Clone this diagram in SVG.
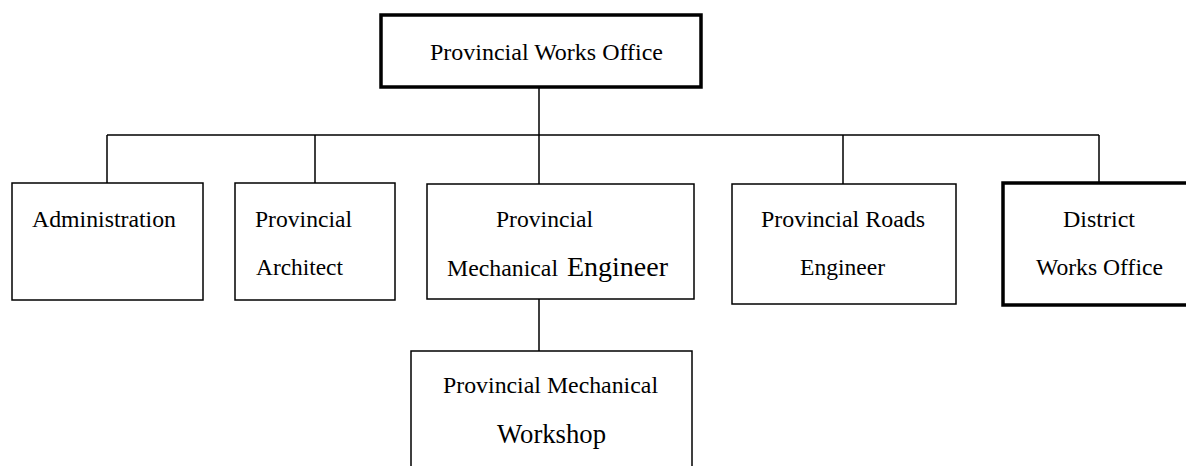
<svg xmlns="http://www.w3.org/2000/svg" width="1186" height="466" viewBox="0 0 1186 466">
<style>
.box{fill:#fff;stroke:#000;stroke-width:1.5}
.thick{fill:#fff;stroke:#000;stroke-width:3.5}
.conn{fill:none;stroke:#000;stroke-width:1.5}
text{font-family:"Liberation Serif","Times New Roman",serif;font-size:23.5px;fill:#000}
.big{font-size:27px}
</style>
<rect width="1186" height="466" fill="#fff"/>
<g id="connectors">
<path class="conn" d="M539,87 V135 M107,135 H1099 M107,135 V183 M315,135 V183 M539,135 V184 M843,135 V184 M1099,135 V183 M539,299 V351"/>
</g>
<g id="pwo">
<rect class="thick" x="381" y="15" width="320" height="72"/>
<text x="430" y="60" textLength="233" lengthAdjust="spacingAndGlyphs">Provincial Works Office</text>
</g>
<g id="admin">
<rect class="box" x="12" y="183" width="191" height="117"/>
<text x="32" y="227" textLength="144" lengthAdjust="spacingAndGlyphs">Administration</text>
</g>
<g id="architect">
<rect class="box" x="235" y="183" width="160" height="117"/>
<text x="255" y="227" textLength="97" lengthAdjust="spacingAndGlyphs">Provincial</text>
<text x="256" y="275" textLength="87" lengthAdjust="spacingAndGlyphs">Architect</text>
</g>
<g id="mecheng">
<rect class="box" x="427" y="184" width="267" height="115"/>
<text x="496" y="227" textLength="97" lengthAdjust="spacingAndGlyphs">Provincial</text>
<text x="447" y="276" textLength="111" lengthAdjust="spacingAndGlyphs">Mechanical</text>
<text class="big" x="567" y="276" textLength="101" lengthAdjust="spacingAndGlyphs">Engineer</text>
</g>
<g id="roads">
<rect class="box" x="732" y="184" width="224" height="120"/>
<text x="761" y="227" textLength="164" lengthAdjust="spacingAndGlyphs">Provincial Roads</text>
<text x="800" y="275" textLength="85" lengthAdjust="spacingAndGlyphs">Engineer</text>
</g>
<g id="district">
<rect class="thick" x="1003" y="183" width="190" height="122"/>
<text x="1063" y="227" textLength="72" lengthAdjust="spacingAndGlyphs">District</text>
<text x="1036" y="275" textLength="127" lengthAdjust="spacingAndGlyphs">Works Office</text>
</g>
<g id="workshop">
<rect class="box" x="411" y="351" width="281" height="130"/>
<text x="443" y="393" textLength="215" lengthAdjust="spacingAndGlyphs">Provincial Mechanical</text>
<text class="big" x="497" y="443" textLength="109" lengthAdjust="spacingAndGlyphs">Workshop</text>
</g>
</svg>
